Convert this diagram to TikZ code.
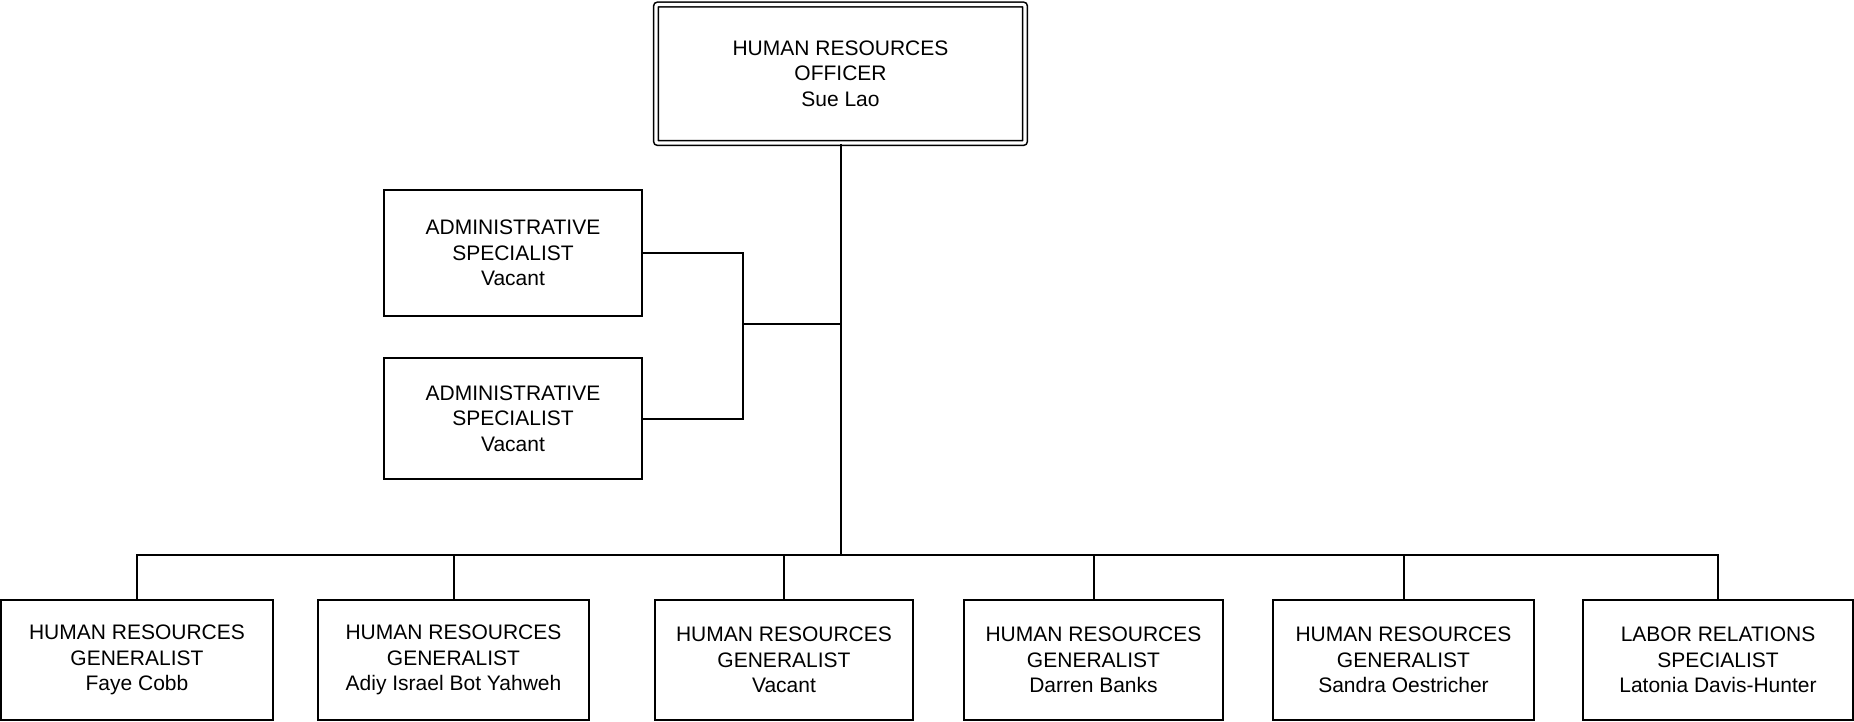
\documentclass[tikz,border=0pt]{standalone}
\usepackage{fontspec}
\setmainfont{Liberation Sans}
\begin{document}
\begin{tikzpicture}[x=0.5pt,y=-0.5pt,
  box/.style={draw, line width=1pt, align=center, inner sep=0pt,
    font=\fontsize{10.5}{12.7}\selectfont},
  headbox/.style={box, double, double distance=1.6pt, line width=0.8pt,
    rounded corners=1pt},
  link/.style={line width=1pt}]
\useasboundingbox (0,0) rectangle (1854,722);

% head of the office
\node[headbox, minimum width=184.5pt, minimum height=69.25pt] (hro) at (840.5,73.75)
  {HUMAN RESOURCES\\OFFICER\\Sue Lao};

% administrative staff
\node[box, minimum width=129pt, minimum height=63pt] (adm1) at (513,253)
  {ADMINISTRATIVE\\SPECIALIST\\Vacant};
\node[box, minimum width=129pt, minimum height=60.5pt] (adm2) at (513,418.5)
  {ADMINISTRATIVE\\SPECIALIST\\Vacant};

% specialists row
\node[box, minimum width=136pt, minimum height=60.25pt] (g1) at (137,660)
  {HUMAN RESOURCES\\GENERALIST\\Faye Cobb};
\node[box, minimum width=135.5pt, minimum height=60.25pt] (g2) at (453.5,660)
  {HUMAN RESOURCES\\GENERALIST\\Adiy Israel Bot Yahweh};
\node[box, minimum width=129pt, minimum height=60.25pt] (g3) at (784,660)
  {HUMAN RESOURCES\\GENERALIST\\Vacant};
\node[box, minimum width=129.5pt, minimum height=60.25pt] (g4) at (1093.5,660)
  {HUMAN RESOURCES\\GENERALIST\\Darren Banks};
\node[box, minimum width=130.5pt, minimum height=60.25pt] (g5) at (1403.5,660)
  {HUMAN RESOURCES\\GENERALIST\\Sandra Oestricher};
\node[box, minimum width=135pt, minimum height=60.25pt] (lr) at (1718,660)
  {LABOR RELATIONS\\SPECIALIST\\Latonia Davis-Hunter};

% connectors
\coordinate (bus) at (840.5,554.5);
\coordinate (aj) at (742.5,324);
\draw[link] (hro.south) -- (bus);
\foreach \n in {g1,g2,g3,g4,g5,lr}
  \draw[link] (bus) -| (\n.north);
\draw[link] (adm1.east) -| (aj);
\draw[link] (adm2.east) -| (aj);
\draw[link] (aj) -- (aj -| hro.south);
\end{tikzpicture}
\end{document}
